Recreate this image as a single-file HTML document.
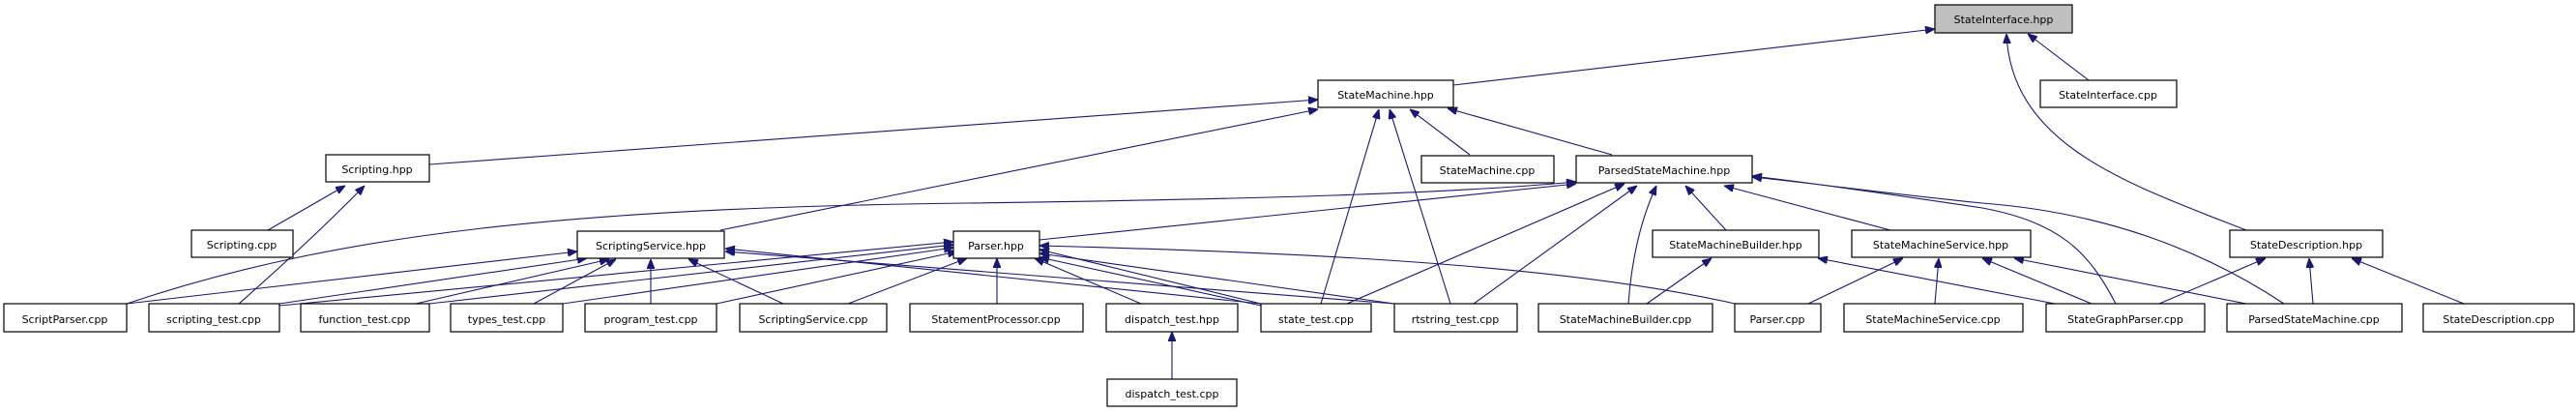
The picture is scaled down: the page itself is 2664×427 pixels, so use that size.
<!DOCTYPE html>
<html><head><meta charset="utf-8"><style>
html,body{margin:0;padding:0;background:#fff;}
svg{display:block;}
text{font-family:"DejaVu Sans","Liberation Sans",sans-serif;font-size:11px;fill:#000;}
.e{fill:none;stroke:#191970;stroke-width:1.1;marker-end:url(#a);}
.b{fill:#fff;stroke:#000;stroke-width:1.2;}
</style></head><body>
<svg width="2664" height="427" viewBox="0 0 2664 427" xmlns="http://www.w3.org/2000/svg">
<defs><marker id="a" viewBox="0 0 10 8" refX="10" refY="4" markerWidth="10" markerHeight="8" markerUnits="userSpaceOnUse" orient="auto"><path d="M0,0 L10,4 L0,8 z" fill="#191970" stroke="#191970"/></marker></defs>

<path class="e" d="M1503,88 L2001,30"/>
<path class="e" d="M2160,83 L2097,35"/>
<path class="e" d="M2323,238 C2200,190 2080,150 2075,35"/>
<path class="e" d="M444,170 L1363,103"/>
<path class="e" d="M745,238 L1363,113"/>
<path class="e" d="M1520,160 L1458,113"/>
<path class="e" d="M1667,160 L1497,112"/>
<path class="e" d="M1366,314 L1426,113"/>
<path class="e" d="M1500,314 L1437,113"/>
<path class="e" d="M277,238 L357,192"/>
<path class="e" d="M247,314 Q320,250 377,192"/>
<path class="e" d="M131,314 C350,240 600,215 1000,210 C1300,206 1500,200 1630,188"/>
<path class="e" d="M1075,248 L1630,190"/>
<path class="e" d="M1393,314 L1680,190"/>
<path class="e" d="M1524,314 L1693,192"/>
<path class="e" d="M1684,314 C1688,260 1700,220 1713,192"/>
<path class="e" d="M1785,238 L1743,192"/>
<path class="e" d="M1955,238 L1783,192"/>
<path class="e" d="M2188,314 C2160,260 2130,230 2050,215 C1950,200 1880,190 1812,182"/>
<path class="e" d="M2362,314 C2280,260 2180,220 2050,210 C1950,200 1880,190 1812,183"/>
<path class="e" d="M131,314 L597,260"/>
<path class="e" d="M289,314 L607,267"/>
<path class="e" d="M430,314 L630,268"/>
<path class="e" d="M552,314 L637,268"/>
<path class="e" d="M673,314 L673,268"/>
<path class="e" d="M810,314 L712,268"/>
<path class="e" d="M1304,314 L750,257"/>
<path class="e" d="M1442,314 L750,260"/>
<path class="e" d="M289,316 L986,250"/>
<path class="e" d="M444,314 L986,253"/>
<path class="e" d="M582,314 L986,256"/>
<path class="e" d="M741,314 L990,260"/>
<path class="e" d="M877,314 L1000,267"/>
<path class="e" d="M1031,314 L1031,267"/>
<path class="e" d="M1180,314 L1070,267"/>
<path class="e" d="M1304,314 L1075,258"/>
<path class="e" d="M1442,314 L1075,262"/>
<path class="e" d="M1794,314 C1600,270 1300,260 1075,254"/>
<path class="e" d="M1304,316 L1075,266"/>
<path class="e" d="M1703,314 L1770,267"/>
<path class="e" d="M2125,314 L1880,267"/>
<path class="e" d="M1870,314 L1968,267"/>
<path class="e" d="M2001,314 L2005,267"/>
<path class="e" d="M2163,314 L2050,267"/>
<path class="e" d="M2323,314 L2083,267"/>
<path class="e" d="M2233,314 L2343,267"/>
<path class="e" d="M2392,314 L2388,267"/>
<path class="e" d="M2548,314 L2432,267"/>
<path class="e" d="M1212,392 L1212,343"/>

<rect x="2001" y="5" width="142" height="29" fill="#bfbfbf" stroke="#000" stroke-width="1.2"/>
<text x="2072" y="24" text-anchor="middle">StateInterface.hpp</text>

<rect class="b" x="1363" y="83" width="140" height="28"/><text x="1433" y="102" text-anchor="middle">StateMachine.hpp</text>
<rect class="b" x="2110" y="83" width="141" height="28"/><text x="2180" y="102" text-anchor="middle">StateInterface.cpp</text>

<rect class="b" x="337" y="160" width="107" height="28"/><text x="390" y="179" text-anchor="middle">Scripting.hpp</text>
<rect class="b" x="1470" y="161" width="137" height="28"/><text x="1538" y="180" text-anchor="middle">StateMachine.cpp</text>
<rect class="b" x="1630" y="161" width="182" height="28"/><text x="1721" y="180" text-anchor="middle">ParsedStateMachine.hpp</text>

<rect class="b" x="198" y="238" width="105" height="28"/><text x="250" y="257" text-anchor="middle">Scripting.cpp</text>
<rect class="b" x="597" y="239" width="152" height="28"/><text x="673" y="258" text-anchor="middle">ScriptingService.hpp</text>
<rect class="b" x="986" y="239" width="89" height="28"/><text x="1030" y="258" text-anchor="middle">Parser.hpp</text>
<rect class="b" x="1709" y="238" width="172" height="28"/><text x="1795" y="257" text-anchor="middle">StateMachineBuilder.hpp</text>
<rect class="b" x="1915" y="238" width="185" height="28"/><text x="2007" y="257" text-anchor="middle">StateMachineService.hpp</text>
<rect class="b" x="2306" y="238" width="158" height="28"/><text x="2385" y="257" text-anchor="middle">StateDescription.hpp</text>

<rect class="b" x="4" y="314" width="127" height="29"/><text x="67" y="334" text-anchor="middle">ScriptParser.cpp</text>
<rect class="b" x="154" y="314" width="135" height="29"/><text x="221" y="334" text-anchor="middle">scripting_test.cpp</text>
<rect class="b" x="311" y="314" width="133" height="29"/><text x="377" y="334" text-anchor="middle">function_test.cpp</text>
<rect class="b" x="466" y="314" width="116" height="29"/><text x="524" y="334" text-anchor="middle">types_test.cpp</text>
<rect class="b" x="605" y="314" width="136" height="29"/><text x="673" y="334" text-anchor="middle">program_test.cpp</text>
<rect class="b" x="765" y="314" width="152" height="29"/><text x="841" y="334" text-anchor="middle">ScriptingService.cpp</text>
<rect class="b" x="941" y="314" width="179" height="29"/><text x="1030" y="334" text-anchor="middle">StatementProcessor.cpp</text>
<rect class="b" x="1144" y="314" width="136" height="29"/><text x="1212" y="334" text-anchor="middle">dispatch_test.hpp</text>
<rect class="b" x="1304" y="314" width="114" height="29"/><text x="1361" y="334" text-anchor="middle">state_test.cpp</text>
<rect class="b" x="1442" y="314" width="127" height="29"/><text x="1505" y="334" text-anchor="middle">rtstring_test.cpp</text>
<rect class="b" x="1591" y="314" width="180" height="29"/><text x="1681" y="334" text-anchor="middle">StateMachineBuilder.cpp</text>
<rect class="b" x="1794" y="314" width="89" height="29"/><text x="1838" y="334" text-anchor="middle">Parser.cpp</text>
<rect class="b" x="1907" y="314" width="185" height="29"/><text x="1999" y="334" text-anchor="middle">StateMachineService.cpp</text>
<rect class="b" x="2116" y="314" width="164" height="29"/><text x="2198" y="334" text-anchor="middle">StateGraphParser.cpp</text>
<rect class="b" x="2303" y="314" width="181" height="29"/><text x="2393" y="334" text-anchor="middle">ParsedStateMachine.cpp</text>
<rect class="b" x="2506" y="314" width="156" height="29"/><text x="2584" y="334" text-anchor="middle">StateDescription.cpp</text>

<rect class="b" x="1145" y="392" width="134" height="28"/><text x="1212" y="411" text-anchor="middle">dispatch_test.cpp</text>
</svg>
</body></html>
